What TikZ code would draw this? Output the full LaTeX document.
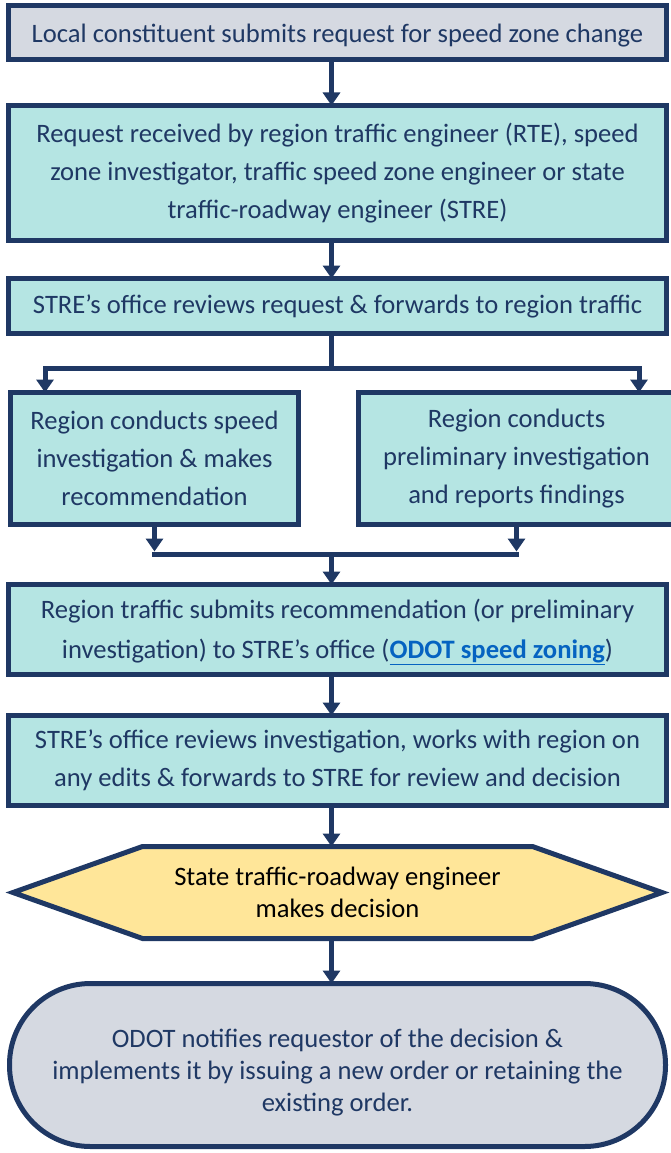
\documentclass[tikz,border=0pt]{standalone}
\usepackage{fontspec}
\setmainfont{Carlito}
\usetikzlibrary{positioning,arrows.meta,calc,backgrounds}
\definecolor{navy}{HTML}{1F3864}
\definecolor{tealbg}{HTML}{B5E5E3}
\definecolor{greybg}{HTML}{D5D9E1}
\definecolor{goldbg}{HTML}{FFE699}
\definecolor{linkblue}{HTML}{0563C1}

\begin{document}
\begin{tikzpicture}[
    x=1pt,y=1pt,
    box/.style={rectangle,draw=navy,line width=5pt,text=navy,align=center,inner sep=0pt,outer sep=0pt,font=\fontsize{26.6}{38}\selectfont},
    request/.style={box,fill=greybg,minimum width=658pt},
    task/.style={box,fill=tealbg,minimum width=658pt},
    flow/.style={draw=navy,line width=5pt},
    arrow/.style={flow,-{Triangle[width=17pt,length=13pt]}}
]
    \useasboundingbox (0,0) rectangle (670,-1153);

    \node[request,minimum height=54pt] (start) at (337.5,-32.5) {\rule{0pt}{24pt}Local constituent submits request for speed zone change};
    \node[task,minimum height=135pt,below=46pt of start] (received) {Request received by region traffic engineer (RTE), speed\\ zone investigator, traffic speed zone engineer or state\\ traffic-roadway engineer (STRE)};
    \node[task,minimum height=55pt,below=38pt of received] (review) {STRE's office reviews request \& forwards to region traffic};
    \node[task,minimum width=288pt,minimum height=132pt,below right=59pt and 2pt of review.south west] (speedinv) {Region conducts speed\\ investigation \& makes\\ recommendation};
    \node[task,minimum width=316pt,minimum height=132pt,right=60pt of speedinv] (prelim) {Region conducts\\ preliminary investigation\\ and reports findings};

    \coordinate (split) at ($(review.south)+(-6,-34.5)$);
    \coordinate (tipL) at ($(speedinv.north west)+(34.5,0)$);
    \coordinate (tipR) at ($(prelim.north west)+(280.5,0)$);
    \coordinate (merge) at ($(speedinv.south -| review.south)+(0,-29.5)$);

    \node[task,minimum height=90pt,below=30.5pt of merge] (submit) {\rule{0pt}{24pt}Region traffic submits recommendation (or preliminary\\[2pt] investigation) to STRE's office (\textcolor{linkblue}{\textbf{\underline{ODOT speed zoning}}})};
    \node[task,minimum height=90pt,below=41pt of submit] (revinv) {STRE's office reviews investigation, works with region on\\ any edits \& forwards to STRE for review and decision};
    \node[minimum width=649pt,minimum height=92pt,inner sep=0pt,outer sep=0pt,align=center,font=\fontsize{26.6}{32}\selectfont,below=41pt of revinv] (decision) {State traffic-roadway engineer\\ makes decision};
    \node[box,fill=greybg,rounded corners=81pt,minimum width=656pt,minimum height=163pt,font=\fontsize{26.6}{32}\selectfont,below=45pt of decision] (notify) {\rule{0pt}{33pt}ODOT notifies requestor of the decision \&\\ implements it by issuing a new order or retaining the\\ existing order.};

    \begin{scope}[on background layer]
        \draw[navy,fill=goldbg,line width=5pt] (decision.west) -- ([xshift=129.5pt]decision.north west) -- ([xshift=-129.5pt]decision.north east) -- (decision.east) -- ([xshift=-129.5pt]decision.south east) -- ([xshift=129.5pt]decision.south west) -- cycle;
    \end{scope}

    \draw[arrow] ([xshift=-6pt]start.south) -- ([xshift=-6pt]received.north);
    \draw[arrow] ([xshift=-6pt]received.south) -- ([xshift=-6pt]review.north);
    \draw[flow] ([xshift=-6pt]review.south) -- (split);
    \draw[arrow] (split) -| (tipL);
    \draw[arrow] (split) -| (tipR);
    \draw[arrow] (speedinv.south) -- ([yshift=2.5pt]speedinv.south |- merge);
    \draw[arrow] (prelim.south) -- ([yshift=2.5pt]prelim.south |- merge);
    \draw[flow,line cap=rect] (speedinv.south |- merge) -- (prelim.south |- merge);
    \draw[arrow] ([xshift=-6pt]merge) -- ([xshift=-6pt]submit.north);
    \draw[arrow] ([xshift=-6pt]submit.south) -- ([xshift=-6pt]revinv.north);
    \draw[arrow] ([xshift=-6pt]revinv.south) -- ([xshift=-6pt]decision.north);
    \draw[arrow] ([xshift=-6pt]decision.south) -- ([xshift=-6pt]notify.north);
\end{tikzpicture}
\end{document}
